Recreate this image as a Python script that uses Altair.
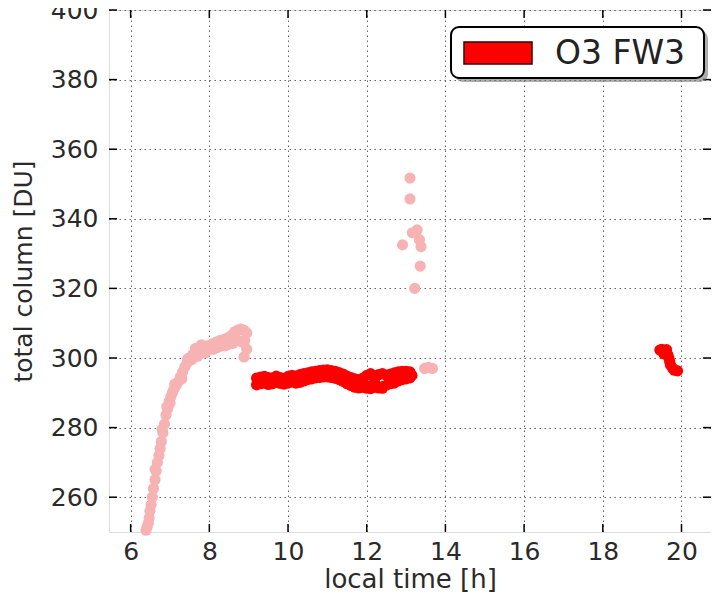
import altair as alt
import pandas as pd

series_name = "O3 FW3"

# faded (pink) measurements
pink_x = [6.39, 6.42, 6.45, 6.47, 6.49, 6.52, 6.55, 6.58, 6.62, 6.65, 6.68, 6.72, 6.75, 6.78,
          6.82, 6.86, 6.9, 6.94, 6.98, 7.02, 7.06, 7.1, 7.15, 7.2, 7.26, 7.32, 7.38, 7.44,
          7.5, 7.58, 7.66, 7.76, 7.86, 7.96, 8.06, 8.16, 8.26, 8.36, 8.46, 8.56, 8.64,
          8.72, 8.8, 8.88, 8.95, 8.9, 8.95, 8.88, 8.5, 8.3, 8.1, 7.9, 7.7, 7.55, 7.3, 7.0,
          6.8, 6.62, 8.2, 8.4, 8.6, 8.75, 8.85, 7.8, 7.65, 7.45, 7.12, 6.92,
          12.91, 13.10, 13.10, 13.16, 13.28, 13.34, 13.38, 13.36, 13.22, 13.47, 13.57, 13.67]
pink_y = [250.5, 251.5, 252.5, 254.0, 256.0, 257.8, 260.0, 262.5, 265.0, 267.5, 270.0, 272.0, 274.0, 276.0,
          278.5, 281.0, 283.6, 285.5, 287.5, 288.8, 290.0, 291.0, 292.0, 293.0, 294.5, 296.0, 297.5, 298.8,
          300.0, 301.0, 301.8, 302.5, 303.0, 303.5, 304.0, 304.5, 305.0, 305.3, 305.8, 306.5, 307.5,
          308.0, 308.3, 308.0, 307.2, 305.0, 302.5, 300.3, 304.0, 303.5, 302.5, 301.5, 300.5, 299.5, 294.0, 287.0,
          279.5, 268.0, 303.0, 303.5, 304.2, 305.0, 304.5, 303.8, 302.8, 299.8, 292.5, 286.0,
          332.5, 351.7, 345.7, 336.0, 336.8, 334.0, 332.0, 326.4, 320.0, 297.0, 297.3, 297.0]

# red (O3 FW3) measurements
red_x = [9.2, 9.2, 9.3, 9.3, 9.4, 9.4, 9.5, 9.5, 9.6, 9.6, 9.7, 9.7, 9.8, 9.8, 9.9, 9.9,
         10.0, 10.0, 10.1, 10.1, 10.2, 10.2, 10.3, 10.3, 10.4, 10.4, 10.5, 10.5, 10.6, 10.6,
         10.7, 10.7, 10.8, 10.8, 10.9, 10.9, 11.0, 11.0, 11.1, 11.1, 11.2, 11.2, 11.3, 11.3,
         11.4, 11.4, 11.5, 11.5, 11.6, 11.6, 11.7, 11.7, 11.8, 11.8, 11.9, 11.9,
         12.0, 12.0, 12.0, 12.1, 12.1, 12.1, 12.2, 12.2, 12.2, 12.3, 12.3, 12.4, 12.4, 12.4,
         12.5, 12.5, 12.6, 12.6, 12.7, 12.7, 12.8, 12.8, 12.9, 12.9, 13.0, 13.0, 13.1, 13.1, 13.15,
         19.45, 19.5, 19.55, 19.6, 19.65, 19.68, 19.7, 19.72, 19.78, 19.82, 19.9, 19.55, 19.62]
red_y = [292.3, 294.2, 292.6, 294.5, 292.8, 294.7, 292.4, 294.4, 292.6, 294.2, 293.0, 294.8, 292.7, 294.4, 292.5, 294.1,
         292.8, 294.7, 293.1, 295.0, 292.8, 294.8, 293.0, 295.2, 293.4, 295.5, 293.8, 295.7, 294.0, 296.0,
         294.3, 296.2, 294.4, 296.4, 294.6, 296.5, 294.6, 296.6, 294.4, 296.4, 294.2, 296.2, 293.8, 295.8,
         293.3, 295.4, 292.6, 294.8, 292.1, 294.4, 291.6, 294.0, 291.4, 293.7, 291.6, 294.2,
         292.0, 295.0, 291.3, 291.8, 295.5, 291.2, 291.6, 294.8, 293.2, 291.4, 295.2, 291.8, 295.5, 291.3,
         292.2, 295.0, 292.6, 295.4, 292.8, 295.7, 293.4, 296.0, 293.8, 296.2, 294.0, 296.2, 294.3, 296.0, 295.0,
         302.3, 302.5, 302.0, 301.8, 301.0, 300.0, 299.0, 298.0, 297.0, 296.5, 296.3, 301.2, 302.4]

x_ticks = [6, 8, 10, 12, 14, 16, 18, 20]
y_ticks = [260, 280, 300, 320, 340, 360, 380, 400]

W, H = 602, 522
FONT = "DejaVu Sans"

pink_df = pd.DataFrame({"t": pink_x, "v": pink_y})
red_df = pd.DataFrame({"t": red_x, "v": red_y})
xt_df = pd.DataFrame({"t": x_ticks})
yt_df = pd.DataFrame({"v": y_ticks})
leg_df = pd.DataFrame({"name": [series_name]})

xscale = alt.Scale(domain=[5.45, 20.75], nice=False, zero=False)
yscale = alt.Scale(domain=[250, 400], nice=False, zero=False)

xaxis = alt.Axis(values=x_ticks, title="local time [h]", grid=True, ticks=False, domain=False,
                 labelFont=FONT, labelFontSize=25, labelColor="#2a2a2a", labelPadding=7,
                 titleFont=FONT, titleFontSize=26, titleFontWeight="normal", titleColor="#2a2a2a",
                 titlePadding=2, gridColor="#666", gridDash=[1.5, 3.5], gridWidth=1)
yaxis = alt.Axis(values=y_ticks, title="total column [DU]", grid=True, ticks=False, domain=False,
                 labelFont=FONT, labelFontSize=25, labelColor="#2a2a2a", labelPadding=11,
                 titleFont=FONT, titleFontSize=25, titleFontWeight="normal", titleColor="#2a2a2a",
                 titlePadding=14, gridColor="#666", gridDash=[1.5, 3.5], gridWidth=1)

pink = alt.Chart(pink_df).mark_circle(size=125, opacity=1, color="#f7b3b3").encode(
    x=alt.X("t:Q", scale=xscale, axis=xaxis),
    y=alt.Y("v:Q", scale=yscale, axis=yaxis),
)
red = alt.Chart(red_df).mark_circle(size=125, opacity=1, color="#ff0000").encode(
    x=alt.X("t:Q", scale=xscale),
    y=alt.Y("v:Q", scale=yscale),
)

tick_style = dict(color="black", strokeWidth=1.5)
xt_bottom = alt.Chart(xt_df).mark_rule(**tick_style).encode(
    x=alt.X("t:Q", scale=xscale), y=alt.value(H), y2=alt.value(H - 8))
xt_top = alt.Chart(xt_df).mark_rule(**tick_style).encode(
    x=alt.X("t:Q", scale=xscale), y=alt.value(0), y2=alt.value(8))
yt_left = alt.Chart(yt_df).mark_rule(**tick_style).encode(
    y=alt.Y("v:Q", scale=yscale), x=alt.value(0), x2=alt.value(8))
yt_right = alt.Chart(yt_df).mark_rule(**tick_style).encode(
    y=alt.Y("v:Q", scale=yscale), x=alt.value(W), x2=alt.value(W - 8))

# legend box
lx, ly, lw, lh = 342, 17, 253, 51
shadow = alt.Chart(leg_df).mark_rect(color="#777", opacity=0.6, cornerRadius=8).encode(
    x=alt.value(lx + 4), x2=alt.value(lx + lw + 4), y=alt.value(ly + 4), y2=alt.value(ly + lh + 4))
box = alt.Chart(leg_df).mark_rect(fill="white", stroke="black", strokeWidth=2, cornerRadius=8).encode(
    x=alt.value(lx), x2=alt.value(lx + lw), y=alt.value(ly), y2=alt.value(ly + lh))
swatch = alt.Chart(leg_df).mark_rect(fill="#ff0000", stroke="#300", strokeWidth=1.5).encode(
    x=alt.value(lx + 13), x2=alt.value(lx + 81), y=alt.value(ly + 15), y2=alt.value(ly + 37))
label = alt.Chart(leg_df).mark_text(font=FONT, fontSize=33, align="left", baseline="middle",
                                    color="#222").encode(
    x=alt.value(lx + 104), y=alt.value(ly + 27), text="name:N")

chart = alt.layer(pink, red, xt_bottom, xt_top, yt_left, yt_right, shadow, box, swatch, label).properties(
    width=W, height=H,
    autosize=alt.AutoSizeParams(type="none"),
    padding={"left": 101, "top": 2, "right": 0, "bottom": 60},
).configure_view(stroke="black", strokeWidth=2).configure(background="white")

chart.save("out.html", embed_options={"renderer": "svg", "actions": False})
